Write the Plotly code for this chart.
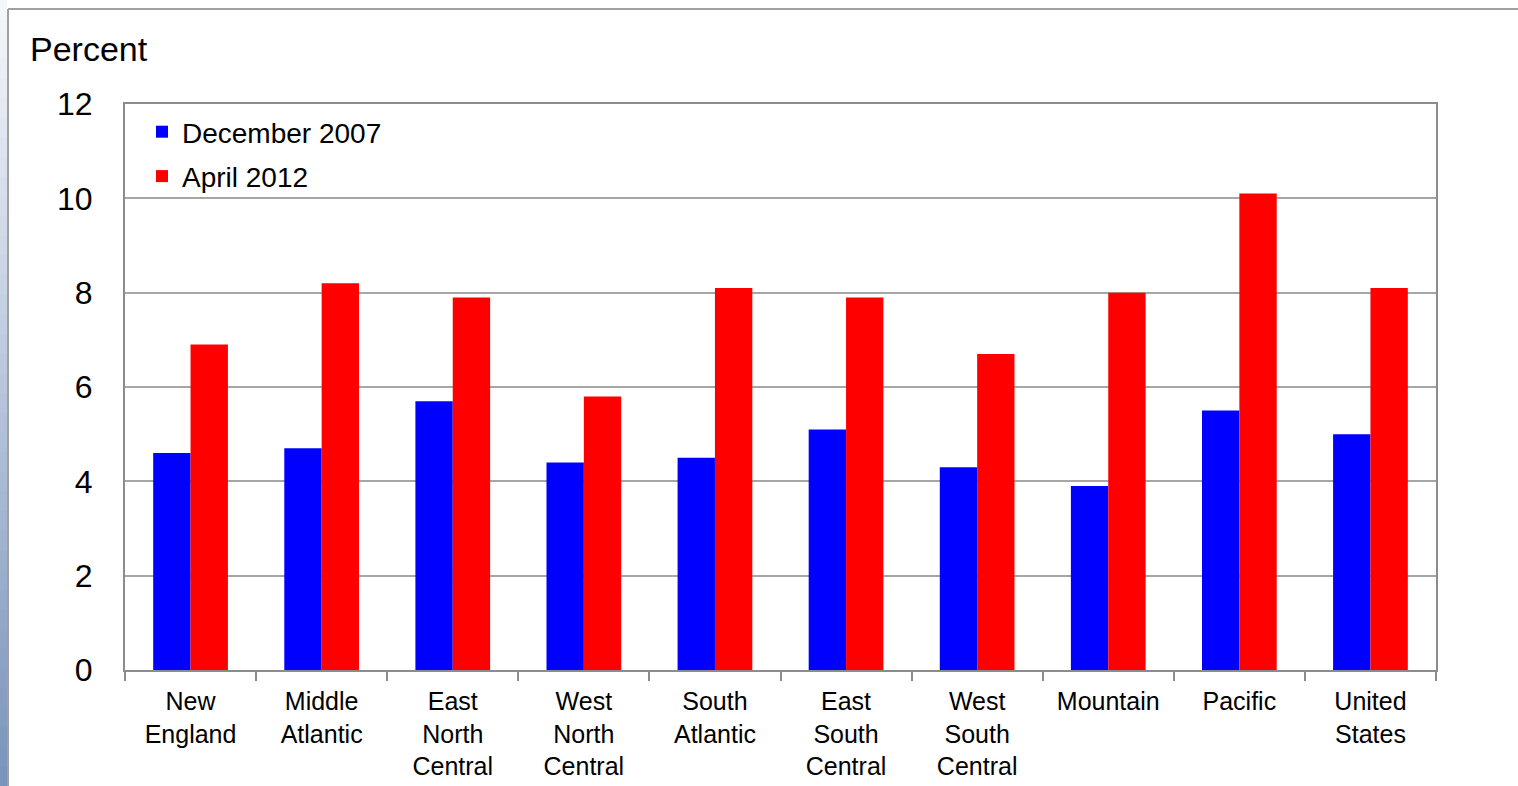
import plotly.graph_objects as go

categories = ["New<br>England", "Middle<br>Atlantic", "East<br>North<br>Central", "West<br>North<br>Central",
              "South<br>Atlantic", "East<br>South<br>Central", "West<br>South<br>Central", "Mountain",
              "Pacific", "United<br>States"]
dec_2007 = [4.6, 4.7, 5.7, 4.4, 4.5, 5.1, 4.3, 3.9, 5.5, 5.0]
apr_2012 = [6.9, 8.2, 7.9, 5.8, 8.1, 7.9, 6.7, 8.0, 10.1, 8.1]
y_ticks = [0, 2, 4, 6, 8, 10, 12]

W, H = 1518, 786
L, R, T, B = 125, 1436, 104, 670
pw, ph = R - L, B - T

def px(x):
    return (x - L) / pw

def py(y):
    return (B - y) / ph

FONT = "Liberation Sans, Arial, sans-serif"

fig = go.Figure()
fig.add_trace(go.Bar(x=categories, y=dec_2007, name="December 2007", legendgroup="a",
                     marker=dict(color="#0000FF", line=dict(width=0))))
fig.add_trace(go.Bar(x=categories, y=apr_2012, name="April 2012", legendgroup="b",
                     marker=dict(color="#FF0000", line=dict(width=0))))

shapes = []
# left gradient strip
n = 40
top_c = (244, 246, 250)
bot_c = (122, 148, 188)
for i in range(n):
    t = i / (n - 1)
    c = tuple(int(round(top_c[k] + (bot_c[k] - top_c[k]) * t)) for k in range(3))
    y0 = i * H / n
    y1 = (i + 1) * H / n + 1
    shapes.append(dict(type="rect", xref="paper", yref="paper",
                       x0=px(0), x1=px(7), y0=py(y1), y1=py(y0),
                       fillcolor="rgb(%d,%d,%d)" % c, line=dict(width=0), layer="below"))
# outer frame lines
shapes.append(dict(type="line", xref="paper", yref="paper", x0=px(8), x1=px(8), y0=py(H + 5), y1=py(9),
                   line=dict(color="#a0a0a0", width=2)))
shapes.append(dict(type="line", xref="paper", yref="paper", x0=px(8), x1=px(W + 5), y0=py(9), y1=py(9),
                   line=dict(color="#a0a0a0", width=2)))

fig.update_layout(
    width=W, height=H,
    margin=dict(l=L, r=W - R, t=T, b=H - B, pad=0, autoexpand=False),
    paper_bgcolor="white", plot_bgcolor="white",
    font=dict(family=FONT, color="black"),
    barmode="group", bargap=0.43, bargroupgap=0,
    showlegend=True,
    legend=dict(x=px(142), y=py(107), xanchor="left", yanchor="top",
                bgcolor="rgba(0,0,0,0)", font=dict(size=28, family=FONT),
                tracegroupgap=5, itemclick=False),
    shapes=shapes,
    annotations=[dict(text="Percent", xref="paper", yref="paper", x=px(28), y=py(49),
                      xanchor="left", yanchor="middle", showarrow=False,
                      font=dict(size=34, family=FONT, color="black"))],
)
fig.update_xaxes(showline=True, mirror=True, linecolor="#8c8c8c", linewidth=2, automargin=False,
                 ticks="outside", tickson="boundaries", ticklen=9, tickcolor="#8c8c8c", tickwidth=2,
                 ticklabelstandoff=8,
                 tickfont=dict(size=25, family=FONT, color="black"), showgrid=False)
fig.update_yaxes(range=[0, 12], tickvals=y_ticks, showline=True, mirror=True, linecolor="#8c8c8c",
                 linewidth=2, showgrid=True, gridcolor="#a6a6a6", gridwidth=2, ticks="", automargin=False,
                 ticklabelstandoff=24, zeroline=False,
                 tickfont=dict(size=32, family=FONT, color="black"))

fig.write_html("out.html")
